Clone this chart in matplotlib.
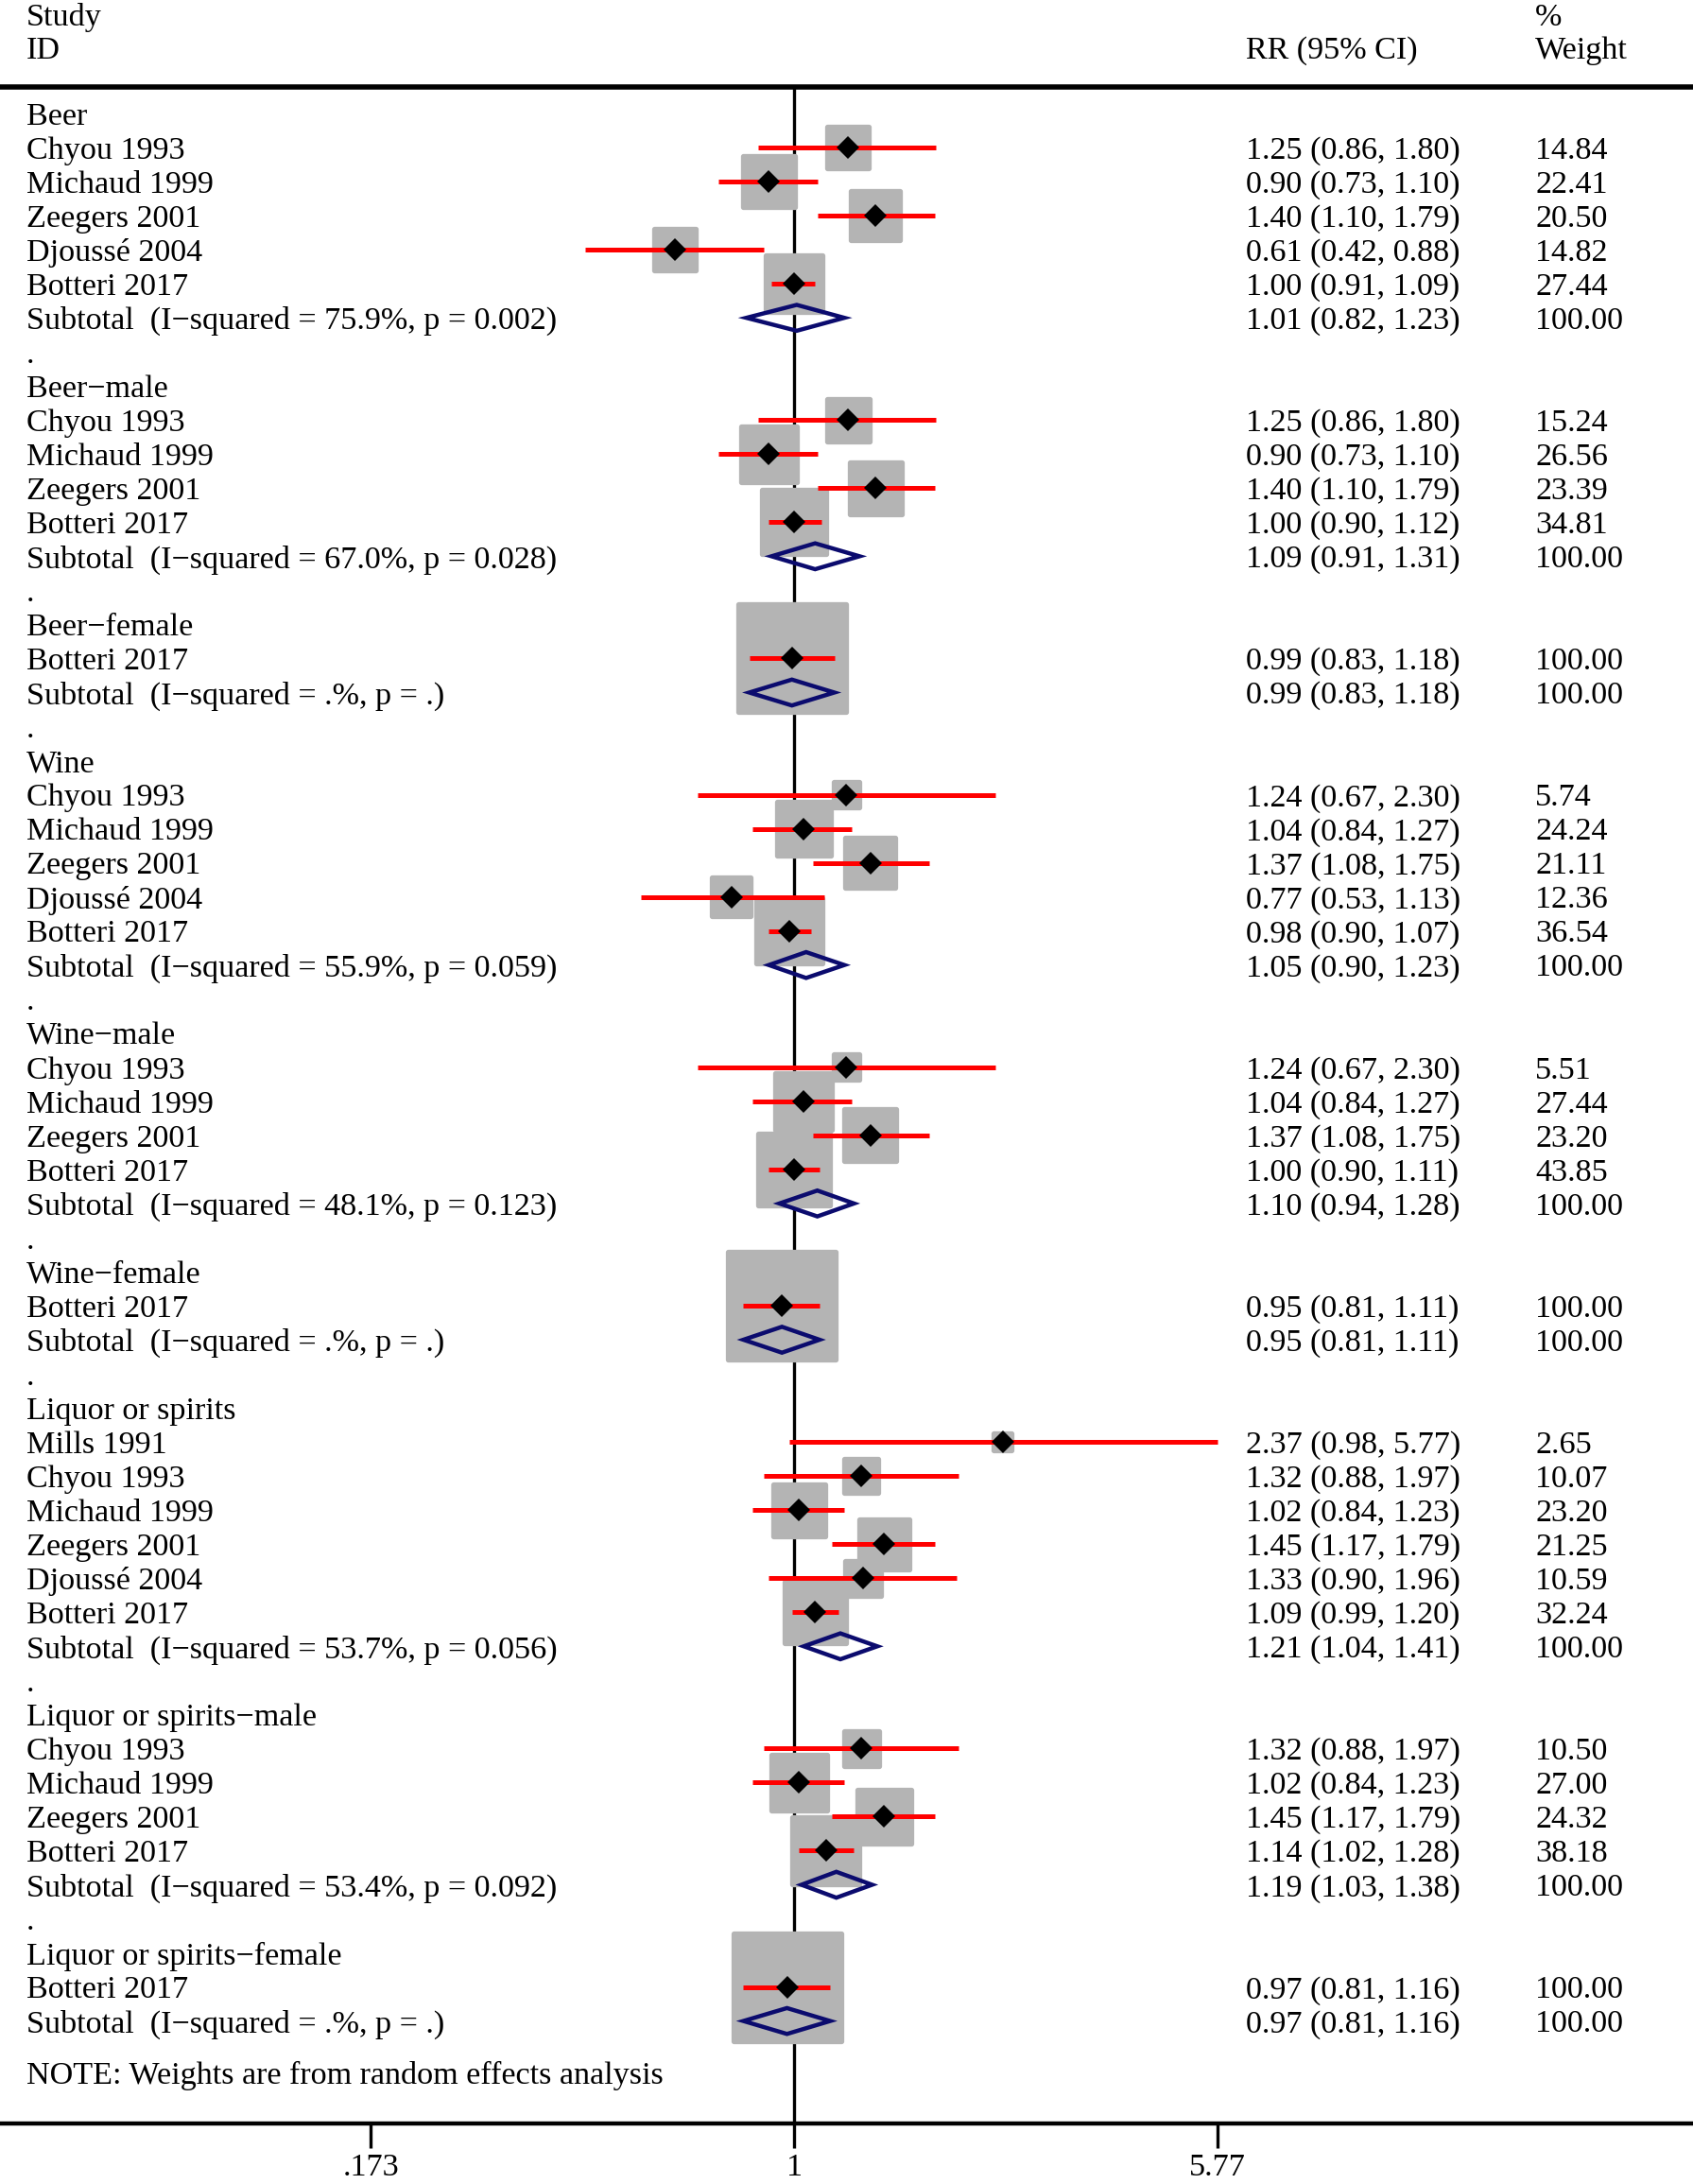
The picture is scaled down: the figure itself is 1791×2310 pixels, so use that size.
import matplotlib.pyplot as plt
import matplotlib.transforms as mtransforms
from matplotlib.patches import Polygon
from matplotlib.ticker import NullLocator
import numpy as np

plt.rcParams['font.family'] = ['Liberation Serif', 'DejaVu Serif']

# ---- data ----
group_names = ['Beer', 'Beer−male', 'Beer−female',
               'Wine', 'Wine−male', 'Wine−female',
               'Liquor or spirits', 'Liquor or spirits−male', 'Liquor or spirits−female']

study_names = [
    ['Chyou 1993', 'Michaud 1999', 'Zeegers 2001', 'Djoussé 2004', 'Botteri 2017'],
    ['Chyou 1993', 'Michaud 1999', 'Zeegers 2001', 'Botteri 2017'],
    ['Botteri 2017'],
    ['Chyou 1993', 'Michaud 1999', 'Zeegers 2001', 'Djoussé 2004', 'Botteri 2017'],
    ['Chyou 1993', 'Michaud 1999', 'Zeegers 2001', 'Botteri 2017'],
    ['Botteri 2017'],
    ['Mills 1991', 'Chyou 1993', 'Michaud 1999', 'Zeegers 2001', 'Djoussé 2004', 'Botteri 2017'],
    ['Chyou 1993', 'Michaud 1999', 'Zeegers 2001', 'Botteri 2017'],
    ['Botteri 2017'],
]
study_rr = [
    [1.25, 0.90, 1.40, 0.61, 1.00],
    [1.25, 0.90, 1.40, 1.00],
    [0.99],
    [1.24, 1.04, 1.37, 0.77, 0.98],
    [1.24, 1.04, 1.37, 1.00],
    [0.95],
    [2.37, 1.32, 1.02, 1.45, 1.33, 1.09],
    [1.32, 1.02, 1.45, 1.14],
    [0.97],
]
study_lo = [
    [0.86, 0.73, 1.10, 0.42, 0.91],
    [0.86, 0.73, 1.10, 0.90],
    [0.83],
    [0.67, 0.84, 1.08, 0.53, 0.90],
    [0.67, 0.84, 1.08, 0.90],
    [0.81],
    [0.98, 0.88, 0.84, 1.17, 0.90, 0.99],
    [0.88, 0.84, 1.17, 1.02],
    [0.81],
]
study_hi = [
    [1.80, 1.10, 1.79, 0.88, 1.09],
    [1.80, 1.10, 1.79, 1.12],
    [1.18],
    [2.30, 1.27, 1.75, 1.13, 1.07],
    [2.30, 1.27, 1.75, 1.11],
    [1.11],
    [5.77, 1.97, 1.23, 1.79, 1.96, 1.20],
    [1.97, 1.23, 1.79, 1.28],
    [1.16],
]
study_wt = [
    [14.84, 22.41, 20.50, 14.82, 27.44],
    [15.24, 26.56, 23.39, 34.81],
    [100.00],
    [5.74, 24.24, 21.11, 12.36, 36.54],
    [5.51, 27.44, 23.20, 43.85],
    [100.00],
    [2.65, 10.07, 23.20, 21.25, 10.59, 32.24],
    [10.50, 27.00, 24.32, 38.18],
    [100.00],
]
sub_i2 = ['75.9%', '67.0%', '.%', '55.9%', '48.1%', '.%', '53.7%', '53.4%', '.%']
sub_p = ['0.002', '0.028', '.', '0.059', '0.123', '.', '0.056', '0.092', '.']
sub_rr = [1.01, 1.09, 0.99, 1.05, 1.10, 0.95, 1.21, 1.19, 0.97]
sub_lo = [0.82, 0.91, 0.83, 0.90, 0.94, 0.81, 1.04, 1.03, 0.81]
sub_hi = [1.23, 1.31, 1.18, 1.23, 1.28, 1.11, 1.41, 1.38, 1.16]

tick_vals = [1 / 5.77, 1, 5.77]
tick_labels = ['.173', '1', '5.77']
note = 'NOTE: Weights are from random effects analysis'

# ---- figure ----
fig = plt.figure(figsize=(17.91, 23.10), dpi=100)
ax = fig.add_axes([0, 0.02784, 1, 0.93212])
trans = mtransforms.blended_transform_factory(ax.transAxes, ax.transData)

fs = 24.6
x_lab, x_rr, x_wt = 0.0157, 0.7359, 0.9068
gray = '#b4b4b4'
navy = '#0b0b6e'

ax.axvline(1, color='black', lw=2.4, zorder=1)

row = 1
for g, name in enumerate(group_names):
    ax.text(x_lab, row, name, transform=trans, fontsize=fs, va='center_baseline')
    row += 1
    ys = []
    for i, s in enumerate(study_names[g]):
        rr, lo, hi, wt = study_rr[g][i], study_lo[g][i], study_hi[g][i], study_wt[g][i]
        ax.text(x_lab, row, s, transform=trans, fontsize=fs, va='center_baseline')
        ax.text(x_rr, row, '%.2f (%.2f, %.2f)' % (rr, lo, hi), transform=trans,
                fontsize=fs, va='center_baseline')
        ax.text(x_wt, row, '%.2f' % wt, transform=trans, fontsize=fs, va='center_baseline')
        ax.plot([lo, hi], [row, row], color='red', lw=3.6, solid_capstyle='butt', zorder=3)
        ys.append(row)
        row += 1
    ax.scatter(study_rr[g], ys, s=68.2 * np.array(study_wt[g]), marker='s',
               color=gray, edgecolors=gray, linewidths=3.8, zorder=2)
    ax.plot(study_rr[g], ys, 'D', color='black', ms=12.3, mew=0, zorder=4)

    # subtotal
    ax.text(x_lab, row, 'Subtotal  (I−squared = %s, p = %s)' % (sub_i2[g], sub_p[g]),
            transform=trans, fontsize=fs, va='center_baseline')
    ax.text(x_rr, row, '%.2f (%.2f, %.2f)' % (sub_rr[g], sub_lo[g], sub_hi[g]),
            transform=trans, fontsize=fs, va='center_baseline')
    ax.text(x_wt, row, '100.00', transform=trans, fontsize=fs, va='center_baseline')
    h = 0.38
    dia = Polygon([[sub_lo[g], row], [sub_rr[g], row - h], [sub_hi[g], row], [sub_rr[g], row + h]],
                  closed=True, fill=False, edgecolor=navy, lw=3.2, zorder=5)
    ax.add_patch(dia)
    row += 1
    if g < len(group_names) - 1:
        ax.text(x_lab, row, '.', transform=trans, fontsize=fs, va='center_baseline')
        row += 1

ax.text(x_lab, row + 0.5, note, transform=trans, fontsize=fs, va='center_baseline')

# header
ax.text(x_lab, -1.92, 'Study', transform=trans, fontsize=fs, va='center_baseline')
ax.text(x_lab, -0.943, 'ID', transform=trans, fontsize=fs, va='center_baseline')
ax.text(x_rr, -0.943, 'RR (95% CI)', transform=trans, fontsize=fs, va='center_baseline')
ax.text(x_wt, -1.92, '%', transform=trans, fontsize=fs, va='center_baseline')
ax.text(x_wt, -0.943, 'Weight', transform=trans, fontsize=fs, va='center_baseline')

ax.set_xscale('log')
ax.set_xlim(0.0373, 41.3)
ax.set_ylim(60.0, 0.237)
ax.set_xticks(tick_vals)
ax.set_xticklabels(tick_labels)
ax.xaxis.set_minor_locator(NullLocator())
ax.tick_params(axis='x', direction='out', length=18.7, width=2.4, pad=4.5, labelsize=fs)
ax.set_yticks([])
ax.spines['left'].set_visible(False)
ax.spines['right'].set_visible(False)
ax.spines['top'].set_linewidth(4)
ax.spines['bottom'].set_linewidth(3.2)

fig.savefig('out.png', dpi=100)
